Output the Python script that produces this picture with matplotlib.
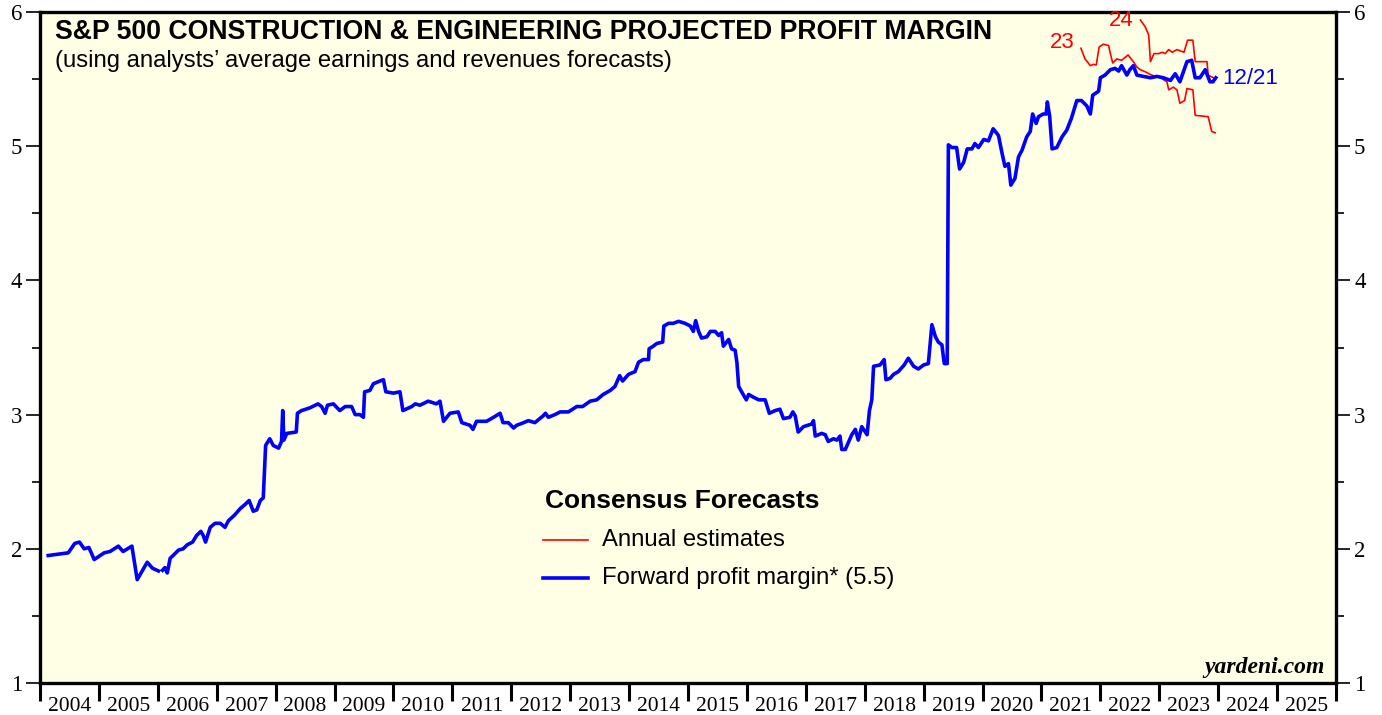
import numpy as np
import matplotlib
matplotlib.use("Agg")
import matplotlib.pyplot as plt
from matplotlib.lines import Line2D

# ---------------- data ----------------
fwd_years = [2004.14, 2004.48, 2004.59, 2004.67, 2004.75, 2004.83, 2004.92, 2005.09, 2005.19, 2005.33,
             2005.41, 2005.56, 2005.65, 2005.82, 2005.91, 2006.01, 2006.04,
             2006.08, 2006.12, 2006.16, 2006.21, 2006.26, 2006.35, 2006.43, 2006.50, 2006.59, 2006.66,
             2006.73, 2006.77, 2006.81, 2006.89, 2006.97, 2007.06, 2007.14, 2007.20, 2007.30, 2007.40,
             2007.48, 2007.55, 2007.62, 2007.68, 2007.74, 2007.79, 2007.83, 2007.90, 2007.96, 2008.05,
             2008.10, 2008.12, 2008.14, 2008.19, 2008.35, 2008.37, 2008.44, 2008.58, 2008.72, 2008.78,
             2008.84, 2008.88, 2008.98, 2009.09, 2009.18, 2009.29, 2009.35, 2009.43, 2009.49, 2009.51,
             2009.60, 2009.66, 2009.77, 2009.83, 2009.87, 2010.00, 2010.11, 2010.16, 2010.31, 2010.37,
             2010.45, 2010.59, 2010.73, 2010.79, 2010.85, 2010.96, 2011.10, 2011.16, 2011.30, 2011.35,
             2011.41, 2011.58, 2011.70, 2011.81, 2011.86, 2011.95, 2012.04, 2012.09, 2012.21, 2012.29,
             2012.40, 2012.54, 2012.58, 2012.63, 2012.74, 2012.83, 2012.97, 2013.11, 2013.21, 2013.34,
             2013.45, 2013.56, 2013.68, 2013.76, 2013.84, 2013.89, 2013.99, 2014.10, 2014.16, 2014.24,
             2014.33, 2014.34, 2014.41, 2014.47, 2014.57, 2014.59, 2014.67, 2014.75, 2014.84, 2014.95,
             2015.04, 2015.09, 2015.13, 2015.18, 2015.23, 2015.32, 2015.38, 2015.46, 2015.52, 2015.57,
             2015.60, 2015.69, 2015.74, 2015.80, 2015.83, 2015.86, 2015.91, 2015.99, 2016.03, 2016.11,
             2016.20, 2016.31, 2016.38, 2016.48, 2016.56, 2016.62, 2016.73, 2016.78, 2016.82, 2016.87,
             2016.96, 2017.10, 2017.13, 2017.16, 2017.27, 2017.33, 2017.38, 2017.47, 2017.53, 2017.58,
             2017.61, 2017.67, 2017.72, 2017.78, 2017.84, 2017.89, 2017.95, 2018.04, 2018.08, 2018.12,
             2018.15, 2018.26, 2018.33, 2018.36, 2018.43, 2018.49, 2018.57, 2018.67, 2018.74, 2018.83,
             2018.91, 2019.00, 2019.08, 2019.14, 2019.20, 2019.25, 2019.31, 2019.35, 2019.40, 2019.42,
             2019.48, 2019.56, 2019.61, 2019.68, 2019.74, 2019.82, 2019.87, 2019.93, 2020.02, 2020.10,
             2020.18, 2020.27, 2020.33, 2020.38, 2020.44, 2020.48, 2020.55, 2020.61, 2020.67, 2020.75,
             2020.81, 2020.85, 2020.91, 2020.95, 2021.03, 2021.08, 2021.10, 2021.14, 2021.18, 2021.26,
             2021.35, 2021.43, 2021.51, 2021.60, 2021.68, 2021.77, 2021.83, 2021.87, 2021.97, 2022.00,
             2022.08, 2022.17, 2022.25, 2022.31, 2022.36, 2022.45, 2022.50, 2022.56, 2022.62, 2022.73,
             2022.85, 2022.96, 2023.07, 2023.19, 2023.27, 2023.35, 2023.47, 2023.55, 2023.61, 2023.69,
             2023.78, 2023.86, 2023.91, 2023.96]
fwd_margin = [1.95, 1.97, 2.04, 2.05, 2.00, 2.01, 1.92, 1.97, 1.98, 2.02,
              1.98, 2.02, 1.77, 1.90, 1.855, 1.835, np.nan,
              1.84, 1.86, 1.82, 1.93, 1.95, 1.99, 2.00, 2.03, 2.05, 2.10,
              2.13, 2.10, 2.05, 2.16, 2.19, 2.19, 2.16, 2.21, 2.25, 2.30,
              2.33, 2.36, 2.28, 2.29, 2.36, 2.38, 2.77, 2.82, 2.77, 2.75,
              2.80, 3.03, 2.81, 2.86, 2.87, 3.01, 3.03, 3.05, 3.08, 3.06,
              3.01, 3.07, 3.08, 3.03, 3.06, 3.06, 3.00, 3.00, 2.98, 3.17,
              3.18, 3.23, 3.25, 3.26, 3.17, 3.16, 3.17, 3.03, 3.06, 3.08,
              3.07, 3.10, 3.08, 3.10, 2.95, 3.01, 3.02, 2.94, 2.92, 2.89,
              2.95, 2.95, 2.98, 3.01, 2.94, 2.94, 2.90, 2.92, 2.94, 2.955,
              2.94, 2.99, 3.01, 2.98, 3.00, 3.02, 3.02, 3.06, 3.06, 3.10,
              3.11, 3.15, 3.18, 3.21, 3.29, 3.25, 3.30, 3.32, 3.39, 3.41,
              3.41, 3.49, 3.51, 3.53, 3.54, 3.66, 3.68, 3.68, 3.695, 3.68,
              3.66, 3.62, 3.70, 3.62, 3.57, 3.58, 3.62, 3.62, 3.59, 3.61,
              3.51, 3.56, 3.49, 3.48, 3.39, 3.21, 3.17, 3.11, 3.15, 3.13,
              3.11, 3.11, 3.01, 3.03, 3.04, 2.97, 2.98, 3.02, 2.99, 2.87,
              2.91, 2.93, 2.955, 2.84, 2.86, 2.85, 2.80, 2.82, 2.81, 2.84,
              2.74, 2.74, 2.79, 2.85, 2.89, 2.81, 2.91, 2.85, 3.03, 3.11,
              3.36, 3.37, 3.41, 3.26, 3.27, 3.30, 3.32, 3.37, 3.42, 3.36,
              3.34, 3.37, 3.38, 3.67, 3.58, 3.54, 3.52, 3.38, 3.38, 5.01,
              4.99, 4.99, 4.83, 4.88, 4.98, 4.98, 5.02, 4.99, 5.05, 5.04,
              5.13, 5.08, 4.95, 4.85, 4.87, 4.71, 4.76, 4.92, 4.97, 5.07,
              5.11, 5.24, 5.17, 5.22, 5.24, 5.24, 5.33, 5.22, 4.98, 4.99,
              5.07, 5.12, 5.21, 5.34, 5.34, 5.30, 5.24, 5.38, 5.41, 5.51,
              5.53, 5.57, 5.58, 5.56, 5.60, 5.53, 5.57, 5.60, 5.53, 5.52,
              5.51, 5.52, 5.51, 5.49, 5.54, 5.48, 5.63, 5.64, 5.51, 5.51,
              5.57, 5.48, 5.48, 5.51]

est23_years = [2021.67, 2021.74, 2021.83, 2021.88, 2021.93, 2021.98, 2022.05, 2022.14, 2022.17, 2022.21,
               2022.28, 2022.36, 2022.47, 2022.56, 2022.62, 2022.68, 2022.76, 2022.87, 2023.02, 2023.13,
               2023.16, 2023.24, 2023.30, 2023.35, 2023.43, 2023.47, 2023.57, 2023.61, 2023.83, 2023.89,
               2023.95]
est23_margin = [5.73, 5.65, 5.60, 5.61, 5.605, 5.74, 5.76, 5.75, 5.69, 5.62,
                5.65, 5.64, 5.68, 5.63, 5.59, 5.57, 5.555, 5.53, 5.51, 5.48,
                5.42, 5.44, 5.42, 5.32, 5.34, 5.43, 5.42, 5.23, 5.22, 5.11,
                5.10]

est24_years = [2022.68, 2022.76, 2022.82, 2022.85, 2022.91, 2022.99, 2023.05, 2023.10, 2023.16, 2023.22,
               2023.30, 2023.42, 2023.48, 2023.57, 2023.61, 2023.81, 2023.83, 2023.92]
est24_margin = [5.94, 5.89, 5.83, 5.63, 5.69, 5.69, 5.70, 5.69, 5.72, 5.70,
                5.72, 5.70, 5.79, 5.79, 5.63, 5.63, 5.53, 5.51]

year_labels = [str(y) for y in range(2004, 2026)]
y_ticks = [1, 2, 3, 4, 5, 6]

# ---------------- figure ----------------
W, H = 1382, 715
fig = plt.figure(figsize=(W / 100, H / 100), dpi=100)
fig.patch.set_facecolor("white")

def fx(px):
    return px / W

def fy(py):
    return 1 - py / H

ax = fig.add_axes([fx(40), fy(683), fx(1336) - fx(40), fy(12) - fy(683)])
ax.set_facecolor("#FFFFE6")

BLUE = "#0000FF"
RED = "#FF0000"

ax.plot(fwd_years, fwd_margin, color=BLUE, lw=2.6, solid_joinstyle="round", zorder=3)
ax.plot(est23_years, est23_margin, color=RED, lw=1.2, zorder=2)
ax.plot(est24_years, est24_margin, color=RED, lw=1.2, zorder=2)

ax.set_xlim(2004, 2026)
ax.set_ylim(1, 6)

for s in ax.spines.values():
    s.set_linewidth(2.4)
    s.set_color("black")

serif = "Liberation Serif"
sans = "Liberation Sans"

# y axis: both sides
ax.set_yticks(y_ticks)
ax.set_yticks(np.arange(1.5, 6, 1.0), minor=True)
ax.tick_params(axis="y", which="major", direction="out", length=10, width=1.2,
               left=True, right=True, labelleft=True, labelright=True, pad=3)
ax.tick_params(axis="y", which="minor", direction="out", length=6, width=1.2,
               left=True, right=True)
for lab in ax.get_yticklabels():
    lab.set_fontfamily(serif)
    lab.set_fontsize(16.5)

# x axis: ticks at year boundaries, labels centered
ax.set_xticks(np.arange(2004, 2027), minor=True)
ax.set_xticks(np.arange(2004.5, 2026.0, 1.0))
ax.set_xticklabels(year_labels, fontfamily=serif, fontsize=15.5)
ax.tick_params(axis="x", which="major", length=0, pad=10)
ax.tick_params(axis="x", which="minor", direction="out", length=13, width=2.2)

# ---------------- text ----------------
fig.text(fx(55), fy(39), "S&P 500 CONSTRUCTION & ENGINEERING PROJECTED PROFIT MARGIN",
         fontfamily=sans, fontweight="bold", fontsize=19.2, va="baseline", ha="left")
fig.text(fx(55), fy(67), "(using analysts\u2019 average earnings and revenues forecasts)",
         fontfamily=sans, fontsize=17.2, va="baseline", ha="left")

fig.text(fx(1222), fy(78), "12/21", color=BLUE, fontfamily=sans, fontsize=16,
         va="center", ha="left")
fig.text(fx(1062), fy(43), "23", color=RED, fontfamily=sans, fontsize=16,
         va="center", ha="center")
fig.text(fx(1121), fy(20), "24", color=RED, fontfamily=sans, fontsize=16,
         va="center", ha="center")

# legend
fig.text(fx(545), fy(501), "Consensus Forecasts", fontfamily=sans, fontweight="bold",
         fontsize=19, va="center", ha="left")
fig.add_artist(Line2D([fx(543), fx(588)], [fy(540), fy(540)], color=RED, lw=1.2))
fig.add_artist(Line2D([fx(543), fx(588)], [fy(578), fy(578)], color=BLUE, lw=2.6))
fig.text(fx(602), fy(540), "Annual estimates", fontfamily=sans, fontsize=17.2,
         va="center", ha="left")
fig.text(fx(602), fy(578), "Forward profit margin* (5.5)", fontfamily=sans, fontsize=17.2,
         va="center", ha="left")

fig.text(fx(1325), fy(668), "yardeni.com", fontfamily=serif, fontweight="bold",
         fontstyle="italic", fontsize=17, va="center", ha="right")

fig.savefig("out.png", dpi=100, facecolor="white")
